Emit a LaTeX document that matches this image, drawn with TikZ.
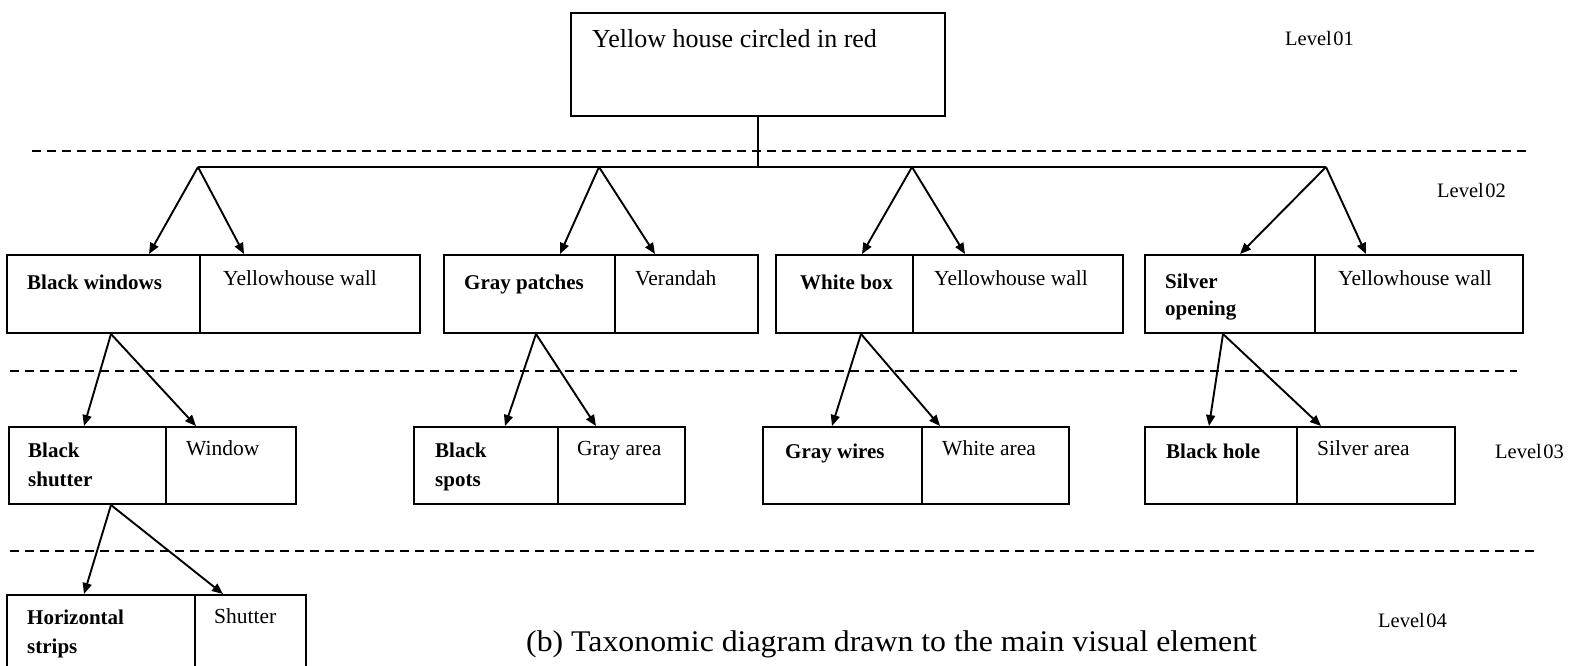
\documentclass[tikz,border=0pt]{standalone}
\usepackage{fontspec}
\setmainfont{Liberation Serif}
\usetikzlibrary{arrows.meta}

\begin{document}
\begin{tikzpicture}[x=1pt,y=-1pt,
  cell/.style={draw,line width=2pt,inner sep=0pt,anchor=north west},
  txt/.style={inner sep=0pt,anchor=base west,font=\fontsize{21.5}{26}\selectfont},
  btxt/.style={txt,font=\fontsize{21}{26}\selectfont\bfseries},
  lvl/.style={inner sep=0pt,anchor=base west,font=\fontsize{20.5}{24}\selectfont},
  conn/.style={line width=1.8pt},
  arr/.style={line width=1.9pt,-{Triangle[length=11pt,width=9pt]}},
  levelline/.style={line width=1.8pt,dash pattern=on 9pt off 6pt}]

\path[use as bounding box,clip] (0,0) rectangle (1571,665);

% ---------- level 1 ----------
\node[cell,minimum width=374pt,minimum height=103pt] (root) at (570,12) {};
\node[inner sep=0pt,anchor=base west,font=\fontsize{26}{30}\selectfont] (rootT) at (592,47) {Yellow house circled in red};

% level separators
\draw[levelline] (32,151) -- (1531,151);
\draw[levelline] (10,371) -- (1517,371);
\draw[levelline] (10,551) -- (1539,551);

% level labels
\node[lvl] (L1) at (1285,45) {Level\hspace{1.5pt}01};
\node[lvl] (L2) at (1437,197) {Level\hspace{1.5pt}02};
\node[lvl] (L3) at (1495,458) {Level\hspace{1.5pt}03};
\node[lvl] (L4) at (1378,627) {Level\hspace{1.5pt}04};

% ---------- level 2 boxes ----------
\node[cell,minimum width=193pt,minimum height=78pt] (bwL) at (6,254) {};
\node[cell,minimum width=220pt,minimum height=78pt] (bwR) at (199,254) {};
\node[btxt] (bwLt) at (27,289) {Black windows};
\node[txt] (bwRt) at (223,285) {Yellowhouse wall};

\node[cell,minimum width=171pt,minimum height=78pt] (gpL) at (443,254) {};
\node[cell,minimum width=143pt,minimum height=78pt] (gpR) at (614,254) {};
\node[btxt] (gpLt) at (464,289) {Gray patches};
\node[txt] (gpRt) at (635,285) {Verandah};

\node[cell,minimum width=137pt,minimum height=78pt] (wbL) at (775,254) {};
\node[cell,minimum width=210pt,minimum height=78pt] (wbR) at (912,254) {};
\node[btxt] (wbLt) at (800,289) {White box};
\node[txt] (wbRt) at (934,285) {Yellowhouse wall};

\node[cell,minimum width=170pt,minimum height=78pt] (soL) at (1144,254) {};
\node[cell,minimum width=208pt,minimum height=78pt] (soR) at (1314,254) {};
\node[btxt] (soLt1) at (1165,288) {Silver};
\node[btxt] (soLt2) at (1165,315) {opening};
\node[txt] (soRt) at (1338,285) {Yellowhouse wall};

% ---------- level 3 boxes ----------
\node[cell,minimum width=157pt,minimum height=77pt] (bsL) at (8,426) {};
\node[cell,minimum width=130pt,minimum height=77pt] (bsR) at (165,426) {};
\node[btxt] (bsLt1) at (28,457) {Black};
\node[btxt] (bsLt2) at (28,486) {shutter};
\node[txt] (bsRt) at (186,455) {Window};

\node[cell,minimum width=144pt,minimum height=77pt] (spL) at (413,426) {};
\node[cell,minimum width=127pt,minimum height=77pt] (spR) at (557,426) {};
\node[btxt] (spLt1) at (435,457) {Black};
\node[btxt] (spLt2) at (435,486) {spots};
\node[txt] (spRt) at (577,455) {Gray area};

\node[cell,minimum width=159pt,minimum height=77pt] (gwL) at (762,426) {};
\node[cell,minimum width=147pt,minimum height=77pt] (gwR) at (921,426) {};
\node[btxt] (gwLt) at (785,458) {Gray wires};
\node[txt] (gwRt) at (942,455) {White area};

\node[cell,minimum width=152pt,minimum height=77pt] (bhL) at (1144,426) {};
\node[cell,minimum width=158pt,minimum height=77pt] (bhR) at (1296,426) {};
\node[btxt] (bhLt) at (1166,458) {Black hole};
\node[txt] (bhRt) at (1317,455) {Silver area};

% ---------- level 4 box ----------
\node[cell,minimum width=188pt,minimum height=110pt] (hsL) at (6,594) {};
\node[cell,minimum width=111pt,minimum height=110pt] (hsR) at (194,594) {};
\node[btxt] (hsLt1) at (27,624) {Horizontal};
\node[btxt] (hsLt2) at (27,653) {strips};
\node[txt] (hsRt) at (214,623) {Shutter};

% caption
\node[inner sep=0pt,anchor=base west,font=\fontsize{30}{34}\selectfont] (cap) at (526,651)
  {\scalebox{1.06}[1]{(b) Taxonomic diagram drawn to the main visual element}};

% ---------- connectors ----------
\coordinate (busA) at (198,167);
\coordinate (busB) at (599,167);
\coordinate (busC) at (912,167);
\coordinate (busD) at (1326,167);
\draw[conn] (root.south) -- (root.south |- busA);
\draw[conn] (busA) -- (busD);

\draw[arr] (busA) -- ([xshift=143pt]bwL.north west);
\draw[arr] (busA) -- ([xshift=45pt]bwR.north west);
\draw[arr] (busB) -- ([xshift=117pt]gpL.north west);
\draw[arr] (busB) -- ([xshift=41pt]gpR.north west);
\draw[arr] (busC) -- ([xshift=87pt]wbL.north west);
\draw[arr] (busC) -- ([xshift=53pt]wbR.north west);
\draw[arr] (busD) -- ([xshift=96pt]soL.north west);
\draw[arr] (busD) -- ([xshift=52pt]soR.north west);

\coordinate (sA) at ([xshift=105pt]bwL.south west);
\coordinate (sB) at ([xshift=93pt]gpL.south west);
\coordinate (sC) at ([xshift=86pt]wbL.south west);
\coordinate (sD) at ([xshift=79pt]soL.south west);
\draw[arr] (sA) -- ([xshift=76pt]bsL.north west);
\draw[arr] (sA) -- ([xshift=31pt]bsR.north west);
\draw[arr] (sB) -- ([xshift=92pt]spL.north west);
\draw[arr] (sB) -- ([xshift=39pt]spR.north west);
\draw[arr] (sC) -- ([xshift=70pt]gwL.north west);
\draw[arr] (sC) -- ([xshift=19pt]gwR.north west);
\draw[arr] (sD) -- ([xshift=65pt]bhL.north west);
\draw[arr] (sD) -- ([xshift=25pt]bhR.north west);

\coordinate (sE) at ([xshift=103pt]bsL.south west);
\draw[arr] (sE) -- ([xshift=78pt]hsL.north west);
\draw[arr] (sE) -- ([xshift=29pt]hsR.north west);
\end{tikzpicture}
\end{document}
